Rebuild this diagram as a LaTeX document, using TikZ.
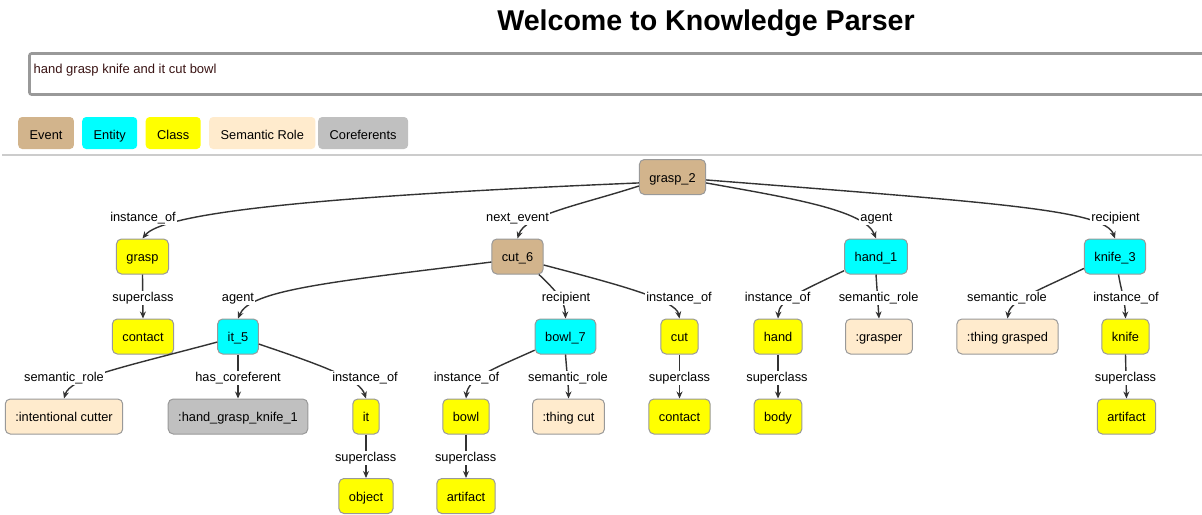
\documentclass[tikz,border=0pt]{standalone}
\usepackage{fontspec}
\setmainfont{Liberation Sans}
\usetikzlibrary{arrows.meta}
\definecolor{evcol}{HTML}{D2B48C}
\definecolor{encol}{HTML}{00FFFF}
\definecolor{clcol}{HTML}{FFFF00}
\definecolor{srcol}{HTML}{FFEBCD}
\definecolor{cocol}{HTML}{C0C0C0}
\definecolor{nodeborder}{HTML}{999999}
\definecolor{edgecol}{HTML}{333333}
\definecolor{inputtext}{HTML}{3A1414}
\newcommand{\fs}{\fontsize{12.8}{15}\selectfont}
\tikzset{
  nd/.style={draw=nodeborder, line width=1pt, rounded corners=5pt, minimum height=35pt,
             inner xsep=10pt, inner ysep=0pt, font=\fs, text height=11pt, text depth=0.8pt},
  ev/.style={nd, fill=evcol},
  en/.style={nd, fill=encol},
  cl/.style={nd, fill=clcol},
  sr/.style={nd, fill=srcol},
  co/.style={nd, fill=cocol},
  lab/.style={fill=white, inner sep=1pt, font=\fs, text height=9.2pt, text depth=2.7pt},
  edge/.style={draw=edgecol, line width=1.4pt, -{Stealth[length=7pt,width=6pt]}},
  leg/.style={rounded corners=4pt, minimum height=32pt, inner xsep=11.5pt, inner ysep=0pt,
              font=\fs, text height=12pt, text depth=0pt},
}
\begin{document}
\begin{tikzpicture}[x=1pt,y=-1pt]
\useasboundingbox (0,0) rectangle (1202,514);
\fill[white] (0,0) rectangle (1202,514);
% title
\node[anchor=base, font=\fontsize{28.6}{32}\selectfont\bfseries, inner sep=0pt] (title) at (706,30) {Welcome to Knowledge Parser};
% input box
\draw[draw=nodeborder, line width=2.6pt, rounded corners=2pt] (29.5,53.5) rectangle (1220,94.5);
\node[anchor=base west, font=\fontsize{13}{15}\selectfont, text=inputtext, inner sep=0pt] (input) at (33.5,73) {hand grasp knife and it cut bowl};
% legend
\node[leg, fill=evcol, anchor=west] (lgev) at (18,133) {Event};
\node[leg, fill=encol, anchor=west] (lgen) at (82,133) {Entity};
\node[leg, fill=clcol, anchor=west] (lgcl) at (145.5,133) {Class};
\node[leg, fill=srcol, anchor=west] (lgsr) at (209,133) {Semantic Role};
\node[leg, fill=cocol, anchor=west] (lgco) at (318,133) {Coreferents};
\draw[draw=black!20, line width=1.6pt] (2,155) -- (1202,155);

% nodes
\node[ev] (g2) at (672.5,177) {grasp\_2};
\node[cl] (grasp) at (142.5,256.5) {grasp};
\node[ev] (cut6) at (517.5,256.5) {cut\_6};
\node[en] (hand1) at (876,256.5) {hand\_1};
\node[en] (knife3) at (1115,256.5) {knife\_3};
\node[cl] (contact1) at (143,336.5) {contact};
\node[en] (it5) at (238,336.5) {it\_5};
\node[en] (bowl7) at (565.5,336.5) {bowl\_7};
\node[cl] (cut) at (679.5,336.5) {cut};
\node[cl] (hand) at (778,336.5) {hand};
\node[sr] (grasper) at (879,336.5) {:grasper};
\node[sr] (tgrasped) at (1007.5,336.5) {:thing grasped};
\node[cl] (knife) at (1125.5,336.5) {knife};
\node[sr] (icutter) at (64,416.5) {:intentional cutter};
\node[co] (hgk) at (238,416.5) {:hand\_grasp\_knife\_1};
\node[cl] (it) at (366,416.5) {it};
\node[cl] (bowl) at (466,416.5) {bowl};
\node[sr] (tcut) at (568.5,416.5) {:thing cut};
\node[cl] (contact2) at (679.5,416.5) {contact};
\node[cl] (body) at (778,416.5) {body};
\node[cl] (artifact1) at (1126.5,416.5) {artifact};
\node[cl] (object) at (366,496) {object};
\node[cl] (artifact2) at (466,496) {artifact};

% edges
\draw[edge] (g2.190) .. controls (300,197) and (162,214) .. (grasp.north);
\draw[edge] (g2.195) .. controls (580,205) and (525,215) .. (cut6.north);
\draw[edge] (g2.350) .. controls (790,198) and (865,210) .. (hand1.north);
\draw[edge] (g2.355) .. controls (1000,203) and (1105,210) .. (knife3.north);
\draw[edge] (grasp.south) -- (contact1.north);
\draw[edge] (cut6.192) .. controls (330,282) and (250,290) .. (it5.north);
\draw[edge] (cut6.-40) .. controls (555,290) and (565,300) .. (bowl7.north);
\draw[edge] (cut6.-18) .. controls (620,285) and (676,300) .. (cut.north);
\draw[edge] (hand1.204) .. controls (800,292) and (779,300) .. (hand.north);
\draw[edge] (hand1.south) -- (grasper.north);
\draw[edge] (knife3.201) .. controls (1040,290) and (1010,300) .. (tgrasped.north);
\draw[edge] ([xshift=3.5pt]knife3.south) .. controls (1121,290) and (1125,300) .. (knife.north);
\draw[edge] (it5.195) .. controls (120,368) and (70,378) .. (icutter.north);
\draw[edge] (it5.south) -- (hgk.north);
\draw[edge] (it5.-20) .. controls (330,368) and (360,380) .. (it.north);
\draw[edge] (bowl7.204) .. controls (495,368) and (468,378) .. (bowl.north);
\draw[edge] (bowl7.south) .. controls (567,375) and (568.5,385) .. (tcut.north);
\draw[edge] (cut.south) -- (contact2.north);
\draw[edge] (hand.south) -- (body.north);
\draw[edge] (knife.south) -- (artifact1.north);
\draw[edge] (it.south) -- (object.north);
\draw[edge] (bowl.south) -- (artifact2.north);

% edge labels
\node[lab] (l1) at (143,218) {instance\_of};
\node[lab] (l2) at (517.5,218) {next\_event};
\node[lab] (l3) at (876.5,218) {agent};
\node[lab] (l4) at (1115.5,218) {recipient};
\node[lab] (l5) at (143,298) {superclass};
\node[lab] (l6) at (238,298) {agent};
\node[lab] (l7) at (566,298) {recipient};
\node[lab] (l8) at (679,298) {instance\_of};
\node[lab] (l9) at (777.6,298) {instance\_of};
\node[lab] (l10) at (878.6,298) {semantic\_role};
\node[lab] (l11) at (1007,298) {semantic\_role};
\node[lab] (l12) at (1126,298) {instance\_of};
\node[lab] (l13) at (64,378) {semantic\_role};
\node[lab] (l14) at (238,378) {has\_coreferent};
\node[lab] (l15) at (365,378) {instance\_of};
\node[lab] (l16) at (466.5,378) {instance\_of};
\node[lab] (l17) at (568,378) {semantic\_role};
\node[lab] (l18) at (679.5,378) {superclass};
\node[lab] (l19) at (777,378) {superclass};
\node[lab] (l20) at (1125.5,378) {superclass};
\node[lab] (l21) at (365.6,458) {superclass};
\node[lab] (l22) at (465.6,458) {superclass};
\end{tikzpicture}
\end{document}
